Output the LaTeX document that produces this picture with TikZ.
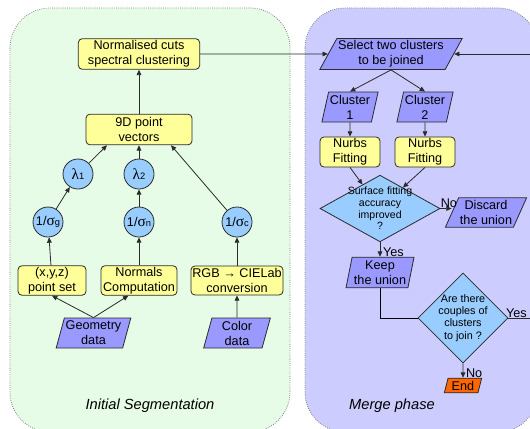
\documentclass[tikz,border=0pt]{standalone}
\usepackage{fontspec}
\setmainfont{Liberation Sans}
\newfontfamily\greekfont{Liberation Serif}
\usetikzlibrary{shapes.geometric,arrows.meta}
\definecolor{boxyellow}{HTML}{FFFF99}
\definecolor{datablue}{HTML}{9999FF}
\definecolor{testblue}{HTML}{99CCFF}
\definecolor{endorange}{HTML}{FF6600}
\definecolor{segbg}{HTML}{E6FCE6}
\definecolor{mergebg}{HTML}{CCCCFF}
\definecolor{linegray}{HTML}{2A2A2A}
\newcommand{\gsym}[1]{{\greekfont\fontsize{11.5}{12}\selectfont #1}}
\newcommand{\gsub}[1]{{\fontsize{7}{8}\selectfont #1}}
\begin{document}
\begin{tikzpicture}[x=0.75pt,y=-0.75pt,line width=0.6pt,
 font=\fontsize{9.5}{11.3}\selectfont,
 proc/.style={draw=linegray,fill=boxyellow,rounded corners=3pt,align=center,inner sep=1pt},
 data/.style={draw=linegray,fill=datablue,trapezium,trapezium stretches body=true,align=center,inner sep=1pt},
 wgt/.style={draw=linegray,fill=testblue,circle,inner sep=0pt,minimum size=22.5pt},
 test/.style={draw=linegray,fill=testblue,diamond,align=center},
 panel/.style={draw=gray,densely dotted,rounded corners=30pt},
 link/.style={draw=linegray,-{Triangle[length=4pt,width=3.5pt]}},
 tag/.style={inner sep=0pt}]
\pgfmathsetmacro{\kw}{530}
\pgfmathsetmacro{\kh}{428}
\useasboundingbox (0,0) rectangle (\kw,\kh);
\clip (0,0) rectangle (\kw,\kh);
%the two phases
\draw[panel,fill=segbg] (10,8) rectangle (290,432);
\draw[panel,fill=mergebg] (305,8) rectangle (538,432);
\node[font=\itshape\fontsize{11}{13}\selectfont] (segname) at (150,406) {Initial Segmentation};
\node[font=\itshape\fontsize{11}{13}\selectfont] (mrgname) at (392,406) {Merge phase};
%initial segmentation
\node[proc,minimum width=91pt,minimum height=23pt] (ncut) at (139,54) {Normalised cuts\\spectral clustering};
\node[proc,minimum width=79.5pt,minimum height=23pt] (vec9) at (139,129.5) {9D point\\vectors};
\node[wgt] (lam1) at (78,174) {\gsym{λ}\gsub{1}};
\node[wgt] (lam2) at (139,174) {\gsym{λ}\gsub{2}};
\node[wgt] (sg) at (48,222) {1/\gsym{σ}\gsub{g}};
\node[wgt] (sn) at (139,222) {1/\gsym{σ}\gsub{n}};
\node[wgt] (sc) at (237,222) {1/\gsym{σ}\gsub{c}};
\node[proc,minimum width=51pt,minimum height=21.75pt] (pts) at (52,280.5) {(x,y,z)\\point set};
\node[proc,minimum width=57pt,minimum height=21.75pt] (nrm) at (139,280.5) {Normals\\Computation};
\node[proc,minimum width=68.25pt,minimum height=21.75pt] (rgb) at (237,280.5) {RGB → CIELab\\conversion};
\node[data,trapezium left angle=73,trapezium right angle=107,minimum width=50pt,minimum height=22.5pt] (geo) at (93.5,333) {Geometry\\data};
\node[data,trapezium left angle=73,trapezium right angle=107,minimum width=50pt,minimum height=22.5pt] (col) at (237,333) {Color\\data};
\draw[link] (geo.north) -- (pts.south);
\draw[link] (geo.north) -- ([xshift=-8pt]nrm.south);
\draw[link] (col) -- (rgb);
\draw[link] (pts) -- (sg);
\draw[link] (nrm) -- (sn);
\draw[link] (rgb) -- (sc);
\draw[link] (sg) -- (lam1);
\draw[link] (sn) -- (lam2);
\draw[link] (lam1) -- ([xshift=-24pt]vec9.south);
\draw[link] (lam2) -- (vec9);
\draw[link] (sc) -- ([xshift=24pt]vec9.south);
\draw[link] (vec9) -- (ncut);
%merge phase
\node[data,trapezium left angle=60,trapezium right angle=120,minimum width=94pt,minimum height=23.25pt] (sel) at (391,54) {Select two clusters\\to be joined};
\node[data,trapezium left angle=76,trapezium right angle=104,minimum width=40pt,minimum height=22.5pt] (cl1) at (350,107) {Cluster\\1};
\node[data,trapezium left angle=76,trapezium right angle=104,minimum width=40pt,minimum height=22.5pt] (cl2) at (425,107) {Cluster\\2};
\node[proc,minimum width=45pt,minimum height=22.5pt] (nf1) at (350,152) {Nurbs\\Fitting};
\node[proc,minimum width=45pt,minimum height=22.5pt] (nf2) at (425,152) {Nurbs\\Fitting};
\node[test,aspect=1.8,inner sep=-3.5pt,minimum width=90pt,minimum height=50pt,font=\fontsize{7.9}{8.8}\selectfont] (surf) at (380,208.5) {Surface fitting\\accuracy\\improved\\?};
\node[data,trapezium left angle=64,trapezium right angle=116,minimum width=46pt,minimum height=22pt] (disc) at (486,212.5) {Discard\\the union};
\node[data,trapezium left angle=77,trapezium right angle=103,minimum width=51pt,minimum height=23pt] (keep) at (380,272.5) {Keep\\the union};
\node[test,aspect=1,inner sep=-1.5pt,minimum width=67.5pt,minimum height=67.5pt,font=\fontsize{8.1}{9.2}\selectfont] (join) at (463,318) {Are there\\couples of\\clusters\\to join ?};
\node[data,fill=endorange,trapezium left angle=68,trapezium right angle=112,minimum width=28pt,minimum height=11pt,inner sep=0pt] (fin) at (463,385.5) {End};
\coordinate (back) at (548,318);
\draw[link] (ncut) -- (sel);
\draw[link] (sel.south) -- (cl1.north);
\draw[link] (sel.south) -- (cl2.north);
\draw[link] (cl1) -- (nf1);
\draw[link] (cl2) -- (nf2);
\draw[link] (nf1.south) -- (surf);
\draw[link] (nf2.south) -- (surf);
\draw[link] (surf.east) -- (surf.east -| disc.west);
\node[tag,anchor=south west] (no1) at (surf.east) {No};
\draw[link] (surf) -- (keep);
\node[tag,anchor=south west] (yes1) at ([xshift=2pt]keep.north) {Yes};
\draw (keep.south) |- (join.west);
\draw[link] (join) -- (fin);
\node[tag,anchor=south west] (no2) at ([xshift=2pt]fin.north) {No};
\draw[link] (join.east) -- (back) |- (sel);
\node[tag,anchor=south west] (yes2) at ([xshift=-2pt]join.east) {Yes};
\end{tikzpicture}
\end{document}
